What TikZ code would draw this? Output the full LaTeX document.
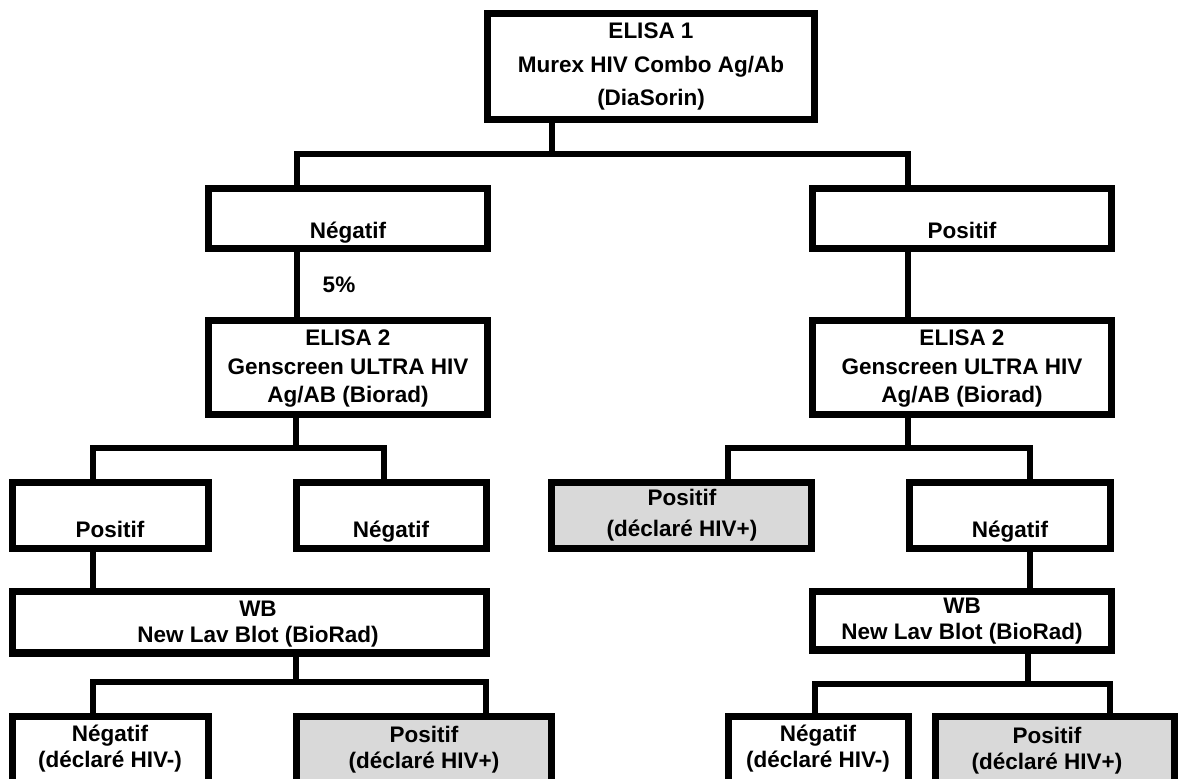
\documentclass[tikz,border=0pt]{standalone}
\usepackage{fontspec}
\setmainfont{Liberation Sans}
\usetikzlibrary{fit}

\tikzset{every picture/.style={line width=3.25pt}}

\begin{document}
\begin{tikzpicture}[x=0.5pt,y=0.5pt,yscale=-1,xscale=1,
	box/.style={draw, line width=3.75pt, inner sep=0pt, fit={#1}},
	hit/.style={box={#1}, fill={rgb,255:red,217;green,217;blue,217}},
	txt/.style={font=\bfseries\fontsize{11.25}{13}\selectfont, align=center, anchor=base, inner sep=0pt},
	leading/.style={font=\bfseries\fontsize{11.25}{#1}\selectfont}]
	\useasboundingbox (0,0) rectangle (1179,779);
	\clip (0,0) rectangle (1179,779);

	% Boxes
	\node[box={(487.5,13.5) (814.5,119.5)}] (elisa1) {};
	\node[box={(208.5,188.5) (487.5,248.5)}] (negA) {};
	\node[box={(812.5,188.5) (1111.5,248.5)}] (posA) {};
	\node[box={(208.5,320.5) (487.5,414.5)}] (elisaL) {};
	\node[box={(812.5,320.5) (1111.5,414.5)}] (elisaR) {};
	\node[box={(12.5,482.5) (208.5,548.5)}] (posL) {};
	\node[box={(296.5,482.5) (486.5,548.5)}] (negL) {};
	\node[hit={(551.5,482.5) (811.5,548.5)}] (posR) {};
	\node[box={(909.5,482.5) (1110.5,548.5)}] (negR) {};
	\node[box={(12.5,591.5) (486.5,653)}] (wbL) {};
	\node[box={(812.5,591.5) (1111.5,650)}] (wbR) {};
	\node[box={(12.5,716.5) (208.5,800)}] (negLL) {};
	\node[hit={(296.5,716.5) (551.5,800)}] (posLL) {};
	\node[box={(728.5,716.5) (908.5,800)}] (negRR) {};
	\node[hit={(935.5,716.5) (1174.5,800)}] (posRR) {};

	% Junctions
	\coordinate (j1) at (552,154);
	\coordinate (j2) at (296,448);
	\coordinate (j3) at (908,448);
	\coordinate (j4) at (296,682);
	\coordinate (j5) at (1028,684);

	% Lines
	\draw (elisa1.south -| j1) -- (j1);
	\draw (negA.north -| 297,0) |- (j1) -| (posA.north -| 908,0);
	\draw (negA.south -| 297,0) -- (elisaL.north -| 297,0);
	\draw (posA.south -| 908,0) -- (elisaR.north -| 908,0);
	\draw (elisaL.south -| j2) -- (j2);
	\draw (posL.north -| 93,0) |- (j2) -| (negL.north -| 384,0);
	\draw (elisaR.south -| j3) -- (j3);
	\draw (posR.north -| 728,0) |- (j3) -| (negR.north -| 1030,0);
	\draw (posL.south -| 93,0) -- (wbL.north -| 93,0);
	\draw (negR.south -| 1030,0) -- (wbR.north -| 1030,0);
	\draw (wbL.south -| j4) -- (j4);
	\draw (negLL.north -| 93,0) |- (j4) -| (posLL.north -| 486,0);
	\draw (wbR.south -| j5) -- (j5);
	\draw (negRR.north -| 815,0) |- (j5) -| (posRR.north -| 1110,0);

	% Text Nodes (base = last line)
	\node[txt, leading=16.75] (t1) at (651,106) {ELISA 1\\Murex HIV Combo Ag/Ab\\(DiaSorin)};
	\node[txt] (t2) at (348,239) {Négatif};
	\node[txt] (t3) at (962,239) {Positif};
	\node[txt] (t4) at (339,293) {5\%};
	\node[txt, leading=14.25] (t5) at (348,403) {ELISA 2\\Genscreen ULTRA HIV\\Ag/AB (Biorad)};
	\node[txt, leading=14.25] (t6) at (962,403) {ELISA 2\\Genscreen ULTRA HIV\\Ag/AB (Biorad)};
	\node[txt] (t7) at (110,538) {Positif};
	\node[txt] (t8) at (391,538) {Négatif};
	\node[txt, leading=15.5] (t9) at (682,537) {Positif\\(déclaré HIV+)};
	\node[txt] (t10) at (1010,538) {Négatif};
	\node[txt] (t11) at (258,643) {WB\\New Lav Blot (BioRad)};
	\node[txt] (t12) at (962,640) {WB\\New Lav Blot (BioRad)};
	\node[txt] (t13) at (110,768) {Négatif\\(déclaré HIV-)};
	\node[txt] (t14) at (424,769) {Positif\\(déclaré HIV+)};
	\node[txt] (t15) at (818,768) {Négatif\\(déclaré HIV-)};
	\node[txt] (t16) at (1047,770) {Positif\\(déclaré HIV+)};

\end{tikzpicture}
\end{document}
